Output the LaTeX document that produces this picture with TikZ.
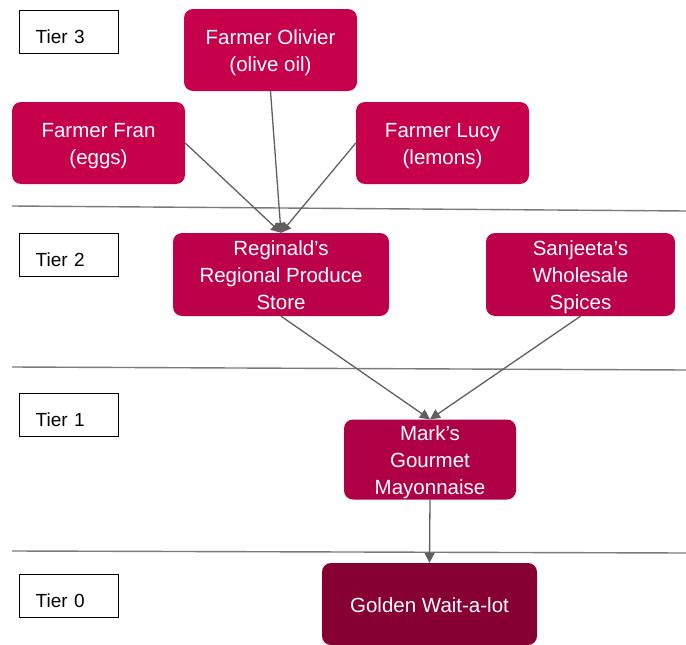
\documentclass[tikz,border=0pt]{standalone}
\usepackage{fontspec}
\setmainfont{Liberation Sans}
\usetikzlibrary{arrows.meta}
\definecolor{tthree}{HTML}{C7004C}
\definecolor{ttwo}{HTML}{BC0049}
\definecolor{tone}{HTML}{B00045}
\definecolor{tzero}{HTML}{870033}
\definecolor{conn}{HTML}{5F5F5F}
\definecolor{sep}{HTML}{7A7A7A}
\newcommand\firmlines[1]{\raisebox{-8pt}[0pt][0pt]{\begin{tabular}{@{}c@{}}#1\end{tabular}}}
\begin{document}
\begin{tikzpicture}[x=1pt,y=-1pt,
  firm/.style={rounded corners=9pt, text=white, inner sep=0pt,
    font=\fontsize{20.5}{27}\selectfont},
  tierbox/.style={draw=black, line width=1.4pt, anchor=north west, align=left,
    minimum width=99pt, minimum height=43pt, inner xsep=16pt, text width=67pt,
    text height=23pt, text depth=0pt,
    font=\fontsize{19}{23}\selectfont},
  link/.style={draw=conn, line width=1.3pt, -{Triangle[length=10pt,width=10pt]}},
  sepline/.style={draw=sep, line width=1.4pt}]
\useasboundingbox (0,0) rectangle (686,645);
% separators
\coordinate (s1a) at (12,206); \coordinate (s1b) at (686,211);
\coordinate (s2a) at (12,367); \coordinate (s2b) at (686,370);
\coordinate (s3a) at (12,551); \coordinate (s3b) at (686,553);
\draw[sepline] (s1a) -- (s1b);
\draw[sepline] (s2a) -- (s2b);
\draw[sepline] (s3a) -- (s3b);
% tier labels
\node[tierbox] (t3) at (19,10) {Tier 3};
\node[tierbox] (t2) at (19,233) {Tier 2};
\node[tierbox] (t1) at (19,393) {Tier 1};
\node[tierbox] (t0) at (19,574) {Tier 0};
% tier 3
\node[firm, fill=tthree, minimum width=173pt, minimum height=82pt] (olivier) at (270.5,50) {\firmlines{Farmer Olivier\\(olive oil)}};
\node[firm, fill=tthree, minimum width=173pt, minimum height=82pt] (fran) at (98.5,143) {\firmlines{Farmer Fran\\(eggs)}};
\node[firm, fill=tthree, minimum width=173pt, minimum height=82pt] (lucy) at (442.5,143) {\firmlines{Farmer Lucy\\(lemons)}};
% tier 2
\node[firm, fill=ttwo, minimum width=216pt, minimum height=83pt] (reg) at (281,274.5) {\firmlines{Reginald’s\\Regional Produce\\Store}};
\node[firm, fill=ttwo, minimum width=189pt, minimum height=83pt] (san) at (580.5,274.5) {\firmlines{Sanjeeta’s\\Wholesale\\Spices}};
% tier 1
\node[firm, fill=tone, minimum width=172pt, minimum height=80pt] (mark) at (430,459.5) {\firmlines{Mark’s\\Gourmet\\Mayonnaise}};
% tier 0
\node[firm, fill=tzero, minimum width=215pt, minimum height=82pt] (golden) at (429.5,604) {\firmlines{Golden Wait-a-lot}};
% connectors
\draw[link] (fran.east) -- (reg.north);
\draw[link] (olivier.south) -- (reg.north);
\draw[link] (lucy.west) -- (reg.north);
\draw[link] (reg.south) -- (mark.north);
\draw[link] (san.south) -- (mark.north);
\draw[link] (mark.south) -- (golden.north);
\end{tikzpicture}
\end{document}
